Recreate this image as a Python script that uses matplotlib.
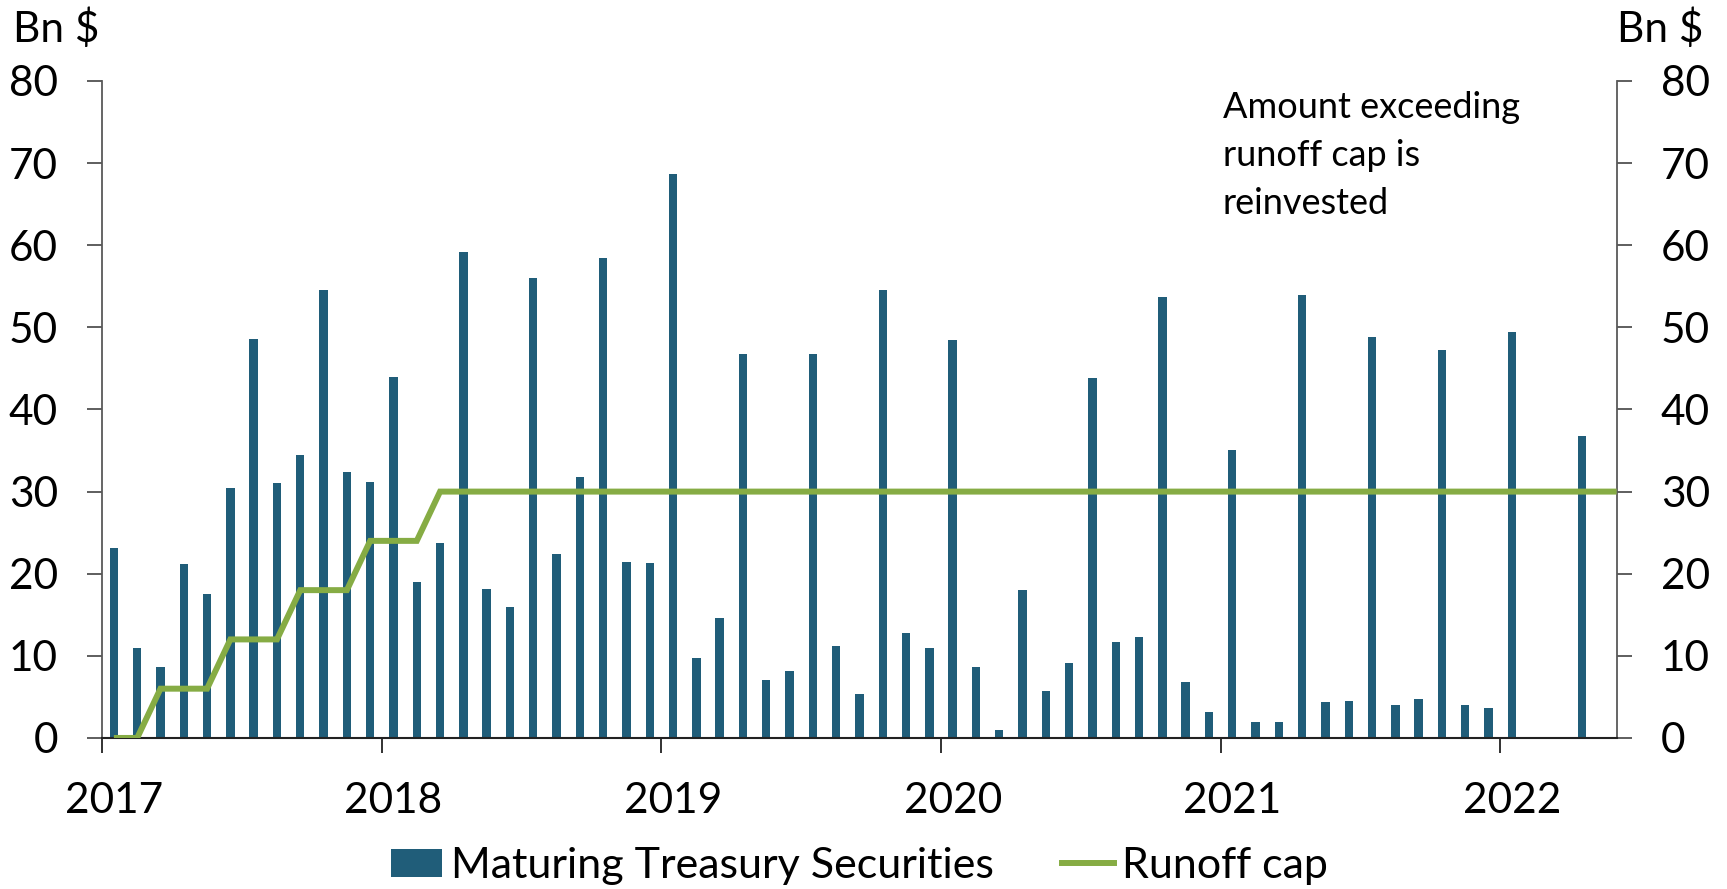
import matplotlib
matplotlib.use("Agg")
import matplotlib.pyplot as plt
import numpy as np
from matplotlib.patches import Patch
from matplotlib.lines import Line2D

plt.rcParams['font.family'] = ['Lato', 'DejaVu Sans']

# Monthly maturing Treasury securities, Jan 2017 - May 2022 (Bn $)
start_year = 2017
maturing = [
    23.1, 10.9, 8.6, 21.2, 17.5, 30.4, 48.6, 31.1, 34.5, 54.6, 32.4, 31.2,   # 2017
    43.9, 19.0, 23.8, 59.2, 18.1, 15.9, 56.0, 22.4, 31.8, 58.5, 21.4, 21.3,  # 2018
    68.7, 9.7, 14.6, 46.7, 7.0, 8.2, 46.7, 11.2, 5.4, 54.6, 12.8, 11.0,      # 2019
    48.4, 8.6, 0.95, 18.0, 5.7, 9.1, 43.8, 11.7, 12.3, 53.7, 6.8, 3.2,       # 2020
    35.1, 2.0, 2.0, 54.0, 4.4, 4.55, 48.8, 4.0, 4.7, 47.3, 4.05, 3.7,        # 2021
    49.4, 0.0, 0.0, 36.8, 0.0,                                               # 2022
]
# Monthly runoff cap (Bn $)
runoff_cap = [0, 0, 6, 6, 6, 12, 12, 12, 18, 18, 18, 24, 24, 24] + [30] * 51

year_ticks = [2017, 2018, 2019, 2020, 2021, 2022]
y_ticks = [0, 10, 20, 30, 40, 50, 60, 70, 80]
x_end = 2022 + 5 / 12

BAR_COLOR = "#205D79"
LINE_COLOR = "#86AC44"
TICK_SIZE = 30.5

months = np.arange(len(maturing))
x_mid = start_year + (months + 0.5) / 12

fig = plt.figure(figsize=(17.27, 8.89), dpi=100)
ax = fig.add_axes([0.0592, 0.1699, 0.8769, 0.739])

ax.bar(x_mid, maturing, width=0.36 / 12, color=BAR_COLOR, linewidth=0, zorder=2)

# cap line, held at its last level out to the edge of the axis
cap_x = np.append(x_mid, x_end)
cap_y = np.append(runoff_cap, runoff_cap[-1])
ax.plot(cap_x, cap_y, color=LINE_COLOR, lw=4.3, solid_capstyle='butt',
        solid_joinstyle='miter', zorder=3)

ax.set_xlim(start_year, x_end)
ax.set_ylim(0, 80)

ax.spines['top'].set_visible(False)
for side in ('left', 'right'):
    ax.spines[side].set_color('#595959')
    ax.spines[side].set_linewidth(1.3)
ax.spines['bottom'].set_color('#222222')
ax.spines['bottom'].set_linewidth(1.5)

ax.set_yticks(y_ticks)
ax.set_yticklabels([str(v) for v in y_ticks])
ax.tick_params(axis='y', which='major', direction='out', length=10.8, width=1.1,
               color='#333333', labelsize=TICK_SIZE, pad=21,
               left=True, right=True, labelleft=True, labelright=True)

# year boundaries as tick marks, labels centred on January
ax.set_xticks(year_ticks)
ax.set_xticklabels([])
ax.set_xticks([y + 0.5 / 12 for y in year_ticks], minor=True)
ax.set_xticklabels([str(y) for y in year_ticks], minor=True)
ax.tick_params(axis='x', which='major', direction='out', length=10.8, width=1.3,
               color='#222222')
ax.tick_params(axis='x', which='minor', length=0, labelsize=TICK_SIZE, pad=32)

fig.text(0.0075, 0.968, "Bn $", fontsize=TICK_SIZE, ha='left', va='center')
fig.text(0.9363, 0.968, "Bn $", fontsize=TICK_SIZE, ha='left', va='center')

ax.text(0.74, 0.985, "Amount exceeding\nrunoff cap is\nreinvested",
        transform=ax.transAxes, fontsize=26, ha='left', va='top',
        linespacing=1.56)

handles = [Patch(facecolor=BAR_COLOR, edgecolor='none'),
           Line2D([0], [0], color=LINE_COLOR, lw=4.3)]
fig.legend(handles, ["Maturing Treasury Securities", "Runoff cap"],
           loc='center', bbox_to_anchor=(0.4976, 0.026), ncol=2, frameon=False,
           fontsize=31, handlelength=1.2, handleheight=0.63,
           handletextpad=0.19, columnspacing=1.6, borderpad=0)

fig.savefig("out.png", dpi=100)
